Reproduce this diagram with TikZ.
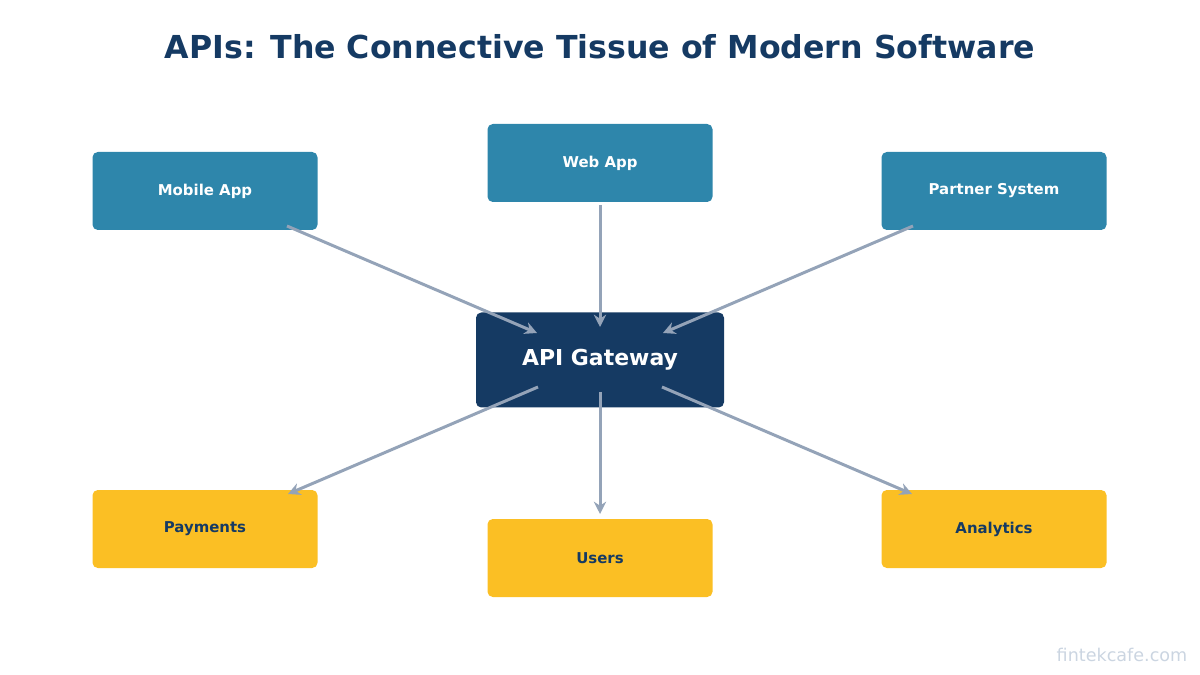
\documentclass[tikz,border=0pt]{standalone}
\usepackage{fontspec}
\setmainfont{DejaVu Sans}
\usetikzlibrary{positioning, arrows.meta}
\definecolor{navy}{HTML}{153A63}
\definecolor{teal}{HTML}{2E86AB}
\definecolor{gold}{HTML}{FBBF24}
\definecolor{link}{HTML}{94A3B8}
\definecolor{mark}{HTML}{CBD5E1}
\tikzset{
  box/.style={rounded corners=3pt, minimum width=225*0.02cm, minimum height=78*0.02cm, font=\bfseries\fontsize{8.5}{10}\selectfont},
  client/.style={box, fill=teal, text=white},
  service/.style={box, fill=gold, text=navy},
  flow/.style={-{Stealth[length=7pt,width=7pt]}, link, line width=1.7pt}
}
\begin{document}
\begin{tikzpicture}[x=0.02cm, y=-0.02cm]
    \useasboundingbox (0,0) rectangle (1200,675);
    \node[font=\bfseries\fontsize{18}{22}\selectfont, text=navy] (title) at (600,47) {APIs: The Connective Tissue of Modern Software};
    %
    \node[client] (mobile) at (205,191) {Mobile App};
    \node[client] (web) at (600,163) {Web App};
    \node[client] (partner) at (994,191) {Partner System};
    \node[box, fill=navy, text=white, minimum width=248*0.02cm, minimum height=95*0.02cm, font=\bfseries\fontsize{12.5}{15}\selectfont] (gateway) at (600,360) {API Gateway};
    \node[service] (payments) at (205,529) {Payments};
    \node[service] (users) at (600,558) {Users};
    \node[service] (analytics) at (994,529) {Analytics};
    %
    \coordinate (m1) at (287,226); \coordinate (m2) at (537,333);
    \coordinate (w1) at (600,205); \coordinate (w2) at (600,327);
    \coordinate (p1) at (913,226); \coordinate (p2) at (663,333);
    \coordinate (g1) at (538,387); \coordinate (g2) at (288,494);
    \coordinate (g3) at (600,392); \coordinate (g4) at (600,514);
    \coordinate (g5) at (662,387); \coordinate (g6) at (912,494);
    \draw[flow] (m1) -- (m2);
    \draw[flow] (w1) -- (w2);
    \draw[flow] (p1) -- (p2);
    \draw[flow] (g1) -- (g2);
    \draw[flow] (g3) -- (g4);
    \draw[flow] (g5) -- (g6);
    %
    \node[text=mark, font=\fontsize{10}{12}\selectfont] (credit) at (1122,655) {fintekcafe.com};
\end{tikzpicture}
\end{document}
